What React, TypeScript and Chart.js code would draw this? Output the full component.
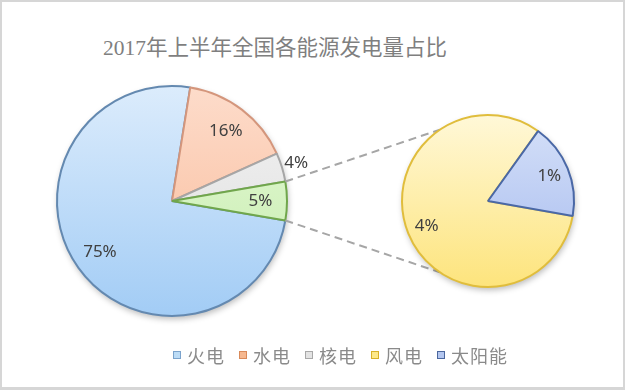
import React, { useEffect, useRef } from 'react';
import { Chart, registerables } from 'chart.js';

Chart.register(...registerables);

const title = '2017年上半年全国各能源发电量占比';
const categories = ['火电', '水电', '核电', '风电', '太阳能'];
const shares = [74.83, 15.7, 4.05, 4.45, 0.97];
const otherLabel = '其他';

const fillTop = ['#dcecfc', '#fddccb', '#f3f3f3', '#fff8d8', '#d6e1f8'];
const fillBottom = ['#a2ccf5', '#f9b996', '#dcdcdc', '#fde47c', '#a4b9ef'];
const borderCols = ['#6489b0', '#d4967c', '#a6a6a6', '#e0bd3c', '#4a68a6'];
const otherTop = '#e6f9d8';
const otherBottom = '#c4ecab';
const otherBorder = '#70a64c';

const legendFill = ['#bcdcf6', '#f6b890', '#e3e3e3', '#fde98a', '#b3c6ef'];
const legendBorder = ['#7ba3cc', '#d98a5a', '#a8a8a8', '#d8b22a', '#4b679e'];

const W = 625;
const H = 390;

function gradient(tops: string[], bottoms: string[]) {
  return (ctx: any) => {
    const chart = ctx.chart;
    const area = chart.chartArea;
    const i = ctx.dataIndex ?? 0;
    if (!area) return bottoms[i];
    const g = chart.ctx.createLinearGradient(0, area.top, 0, area.bottom);
    g.addColorStop(0, tops[i]);
    g.addColorStop(1, bottoms[i]);
    return g;
  };
}

const shadowPlugin = {
  id: 'pieShadow',
  beforeDatasetsDraw(chart: any) {
    const arc = chart.getDatasetMeta(0).data[0] as any;
    if (!arc) return;
    const p = arc.getProps(['x', 'y', 'outerRadius'], true);
    const c = chart.ctx;
    c.save();
    c.shadowColor = 'rgba(0,0,0,0.28)';
    c.shadowBlur = 6;
    c.shadowOffsetX = 1;
    c.shadowOffsetY = 3;
    c.fillStyle = '#ffffff';
    c.beginPath();
    c.arc(p.x, p.y, p.outerRadius, 0, Math.PI * 2);
    c.fill();
    c.restore();
  },
};

function labelPlugin(id: string, total: number, outsideBelow: number) {
  return {
    id,
    afterDatasetsDraw(chart: any) {
      const meta = chart.getDatasetMeta(0);
      const data = chart.data.datasets[0].data as number[];
      const c = chart.ctx;
      c.save();
      c.font = '17px "Noto Sans", sans-serif';
      c.fillStyle = '#404040';
      c.textAlign = 'center';
      c.textBaseline = 'middle';
      meta.data.forEach((arc: any, i: number) => {
        const p = arc.getProps(['x', 'y', 'startAngle', 'endAngle', 'outerRadius'], true);
        const mid = (p.startAngle + p.endAngle) / 2;
        const v = data[i];
        const f = v < outsideBelow ? 1.13 : 0.77;
        c.fillText(
          Math.round((v / total) * 100) + '%',
          p.x + Math.cos(mid) * p.outerRadius * f,
          p.y + Math.sin(mid) * p.outerRadius * f
        );
      });
      c.restore();
    },
  };
}

export default function App() {
  const ref1 = useRef<HTMLCanvasElement>(null);
  const ref2 = useRef<HTMLCanvasElement>(null);

  useEffect(() => {
    document.body.style.margin = '0';
    const total = shares.reduce((a, b) => a + b, 0);
    const other = shares[3] + shares[4];
    const mainData = [shares[0], shares[1], shares[2], other];
    const mainLabels = [categories[0], categories[1], categories[2], otherLabel];
    const mTop = [fillTop[0], fillTop[1], fillTop[2], otherTop];
    const mBottom = [fillBottom[0], fillBottom[1], fillBottom[2], otherBottom];
    const mBorder = [borderCols[0], borderCols[1], borderCols[2], otherBorder];

    const main = new Chart(ref1.current!, {
      type: 'pie',
      data: {
        labels: mainLabels,
        datasets: [
          {
            data: mainData,
            backgroundColor: gradient(mTop, mBottom),
            borderColor: mBorder,
            borderWidth: 2,
          },
        ],
      },
      options: {
        responsive: false,
        animation: false,
        rotation: 90 + ((other / total) * 360) / 2,
        layout: { padding: { left: 56, right: 337, top: 85, bottom: 73 } },
        plugins: { legend: { display: false }, tooltip: { enabled: false }, title: { display: false } },
      },
      plugins: [shadowPlugin, labelPlugin('mainLabels', total, 4.5)],
    });

    const connector = {
      id: 'connector',
      beforeDatasetsDraw(chart: any) {
        const a = main.getDatasetMeta(0).data[3] as any;
        const b = chart.getDatasetMeta(0).data[0] as any;
        if (!a || !b) return;
        const pa = a.getProps(['x', 'y', 'startAngle', 'endAngle', 'outerRadius'], true);
        const pb = b.getProps(['x', 'y', 'outerRadius'], true);
        const c = chart.ctx;
        const ang = (124 * Math.PI) / 180;
        c.save();
        c.strokeStyle = '#a6a6a6';
        c.lineWidth = 2;
        c.setLineDash([8, 5]);
        c.beginPath();
        c.moveTo(pa.x + Math.cos(pa.startAngle) * pa.outerRadius, pa.y + Math.sin(pa.startAngle) * pa.outerRadius);
        c.lineTo(pb.x + Math.cos(-ang) * pb.outerRadius, pb.y + Math.sin(-ang) * pb.outerRadius);
        c.moveTo(pa.x + Math.cos(pa.endAngle) * pa.outerRadius, pa.y + Math.sin(pa.endAngle) * pa.outerRadius);
        c.lineTo(pb.x + Math.cos(ang) * pb.outerRadius, pb.y + Math.sin(ang) * pb.outerRadius);
        c.stroke();
        c.restore();
      },
    };

    const second = new Chart(ref2.current!, {
      type: 'pie',
      data: {
        labels: [categories[3], categories[4]],
        datasets: [
          {
            data: [shares[3], shares[4]],
            backgroundColor: gradient([fillTop[3], fillTop[4]], [fillBottom[3], fillBottom[4]]),
            borderColor: [borderCols[3], borderCols[4]],
            borderWidth: 2,
          },
        ],
      },
      options: {
        responsive: false,
        animation: false,
        rotation: 100,
        layout: { padding: { left: 401, right: 50, top: 114, bottom: 102 } },
        plugins: { legend: { display: false }, tooltip: { enabled: false }, title: { display: false } },
      },
      plugins: [connector, shadowPlugin, labelPlugin('secondLabels', total, 0)],
    });

    return () => {
      second.destroy();
      main.destroy();
    };
  }, []);

  const canvasStyle: React.CSSProperties = { position: 'absolute', left: 0, top: 0 };

  return (
    <div style={{ position: 'relative', width: W, height: H, background: '#ffffff', overflow: 'hidden' }}>
      <div
        style={{
          position: 'absolute',
          left: 0,
          top: 34,
          width: 550,
          textAlign: 'center',
          fontSize: 21.5,
          lineHeight: '28px',
          color: '#7f7f7f',
          fontFamily: '"Liberation Serif", "Noto Sans CJK SC", serif',
          whiteSpace: 'nowrap',
        }}
      >
        {title}
      </div>
      <canvas ref={ref1} width={W} height={H} style={canvasStyle} />
      <canvas ref={ref2} width={W} height={H} style={canvasStyle} />
      <div
        style={{
          position: 'absolute',
          left: 173,
          top: 343,
          height: 24,
          display: 'flex',
          alignItems: 'center',
          fontFamily: '"Noto Sans CJK SC", sans-serif',
          fontSize: 18,
          lineHeight: '24px',
          color: '#8a8a8a',
          whiteSpace: 'nowrap',
        }}
      >
        {categories.map((cat, i) => (
          <div key={cat} style={{ display: 'flex', alignItems: 'center', marginRight: 14 }}>
            <span
              style={{
                display: 'inline-block',
                width: 6,
                height: 6,
                background: legendFill[i],
                border: `1px solid ${legendBorder[i]}`,
                marginRight: 6,
              }}
            />
            <span style={{ letterSpacing: 1 }}>{cat}</span>
          </div>
        ))}
      </div>
      <div
        style={{
          position: 'absolute',
          left: 0,
          top: 0,
          width: W,
          height: H,
          boxSizing: 'border-box',
          border: '2px solid #d6d6d6',
          borderBottomWidth: 3,
          pointerEvents: 'none',
        }}
      />
    </div>
  );
}
